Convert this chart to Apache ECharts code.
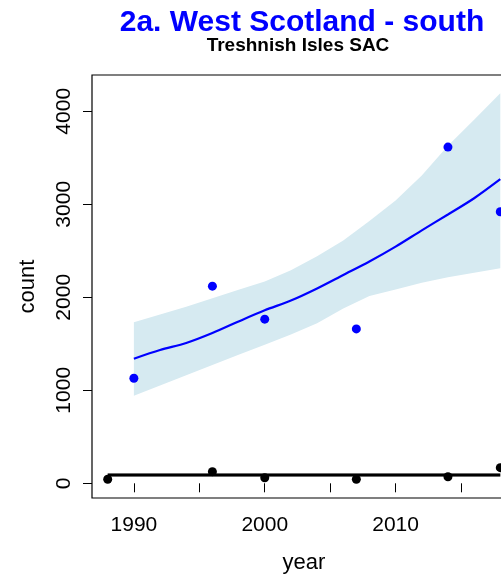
<!DOCTYPE html>
<html>
<head>
<meta charset="utf-8">
<script src="https://cdn.jsdelivr.net/npm/echarts@6/dist/echarts.min.js"></script>
<style>
  html, body { margin: 0; padding: 0; background: #ffffff; overflow: hidden; }
  #chart { width: 501px; height: 577px; }
</style>
</head>
<body>
<div id="chart"></div>
<script>
// Observed colony counts (blue: one survey series, black: the other)
const blueYears = [1990, 1996, 2000, 2007, 2014, 2018];
const blueCounts = [1130, 2120, 1765, 1660, 3615, 2920];
const blackYears = [1988, 1996, 2000, 2007, 2014, 2018];
const blackCounts = [43, 125, 60, 43, 71, 168];

// Fitted trend for the blue series, with its confidence band
const fitYears = [1990, 1992, 1994, 1996, 1998, 2000, 2002, 2004, 2006, 2008, 2010, 2012, 2014, 2016, 2018];
const fitBlue = [1340, 1433, 1508, 1615, 1740, 1860, 1965, 2095, 2240, 2385, 2545, 2720, 2890, 3065, 3270];
const fitBlueUpper = [1731, 1815, 1899, 1989, 2080, 2170, 2290, 2440, 2610, 2820, 3040, 3310, 3630, 3910, 4194];
const fitBlueLower = [942, 1052, 1162, 1272, 1382, 1490, 1600, 1720, 1880, 2015, 2083, 2155, 2215, 2265, 2312];

// Flat trend for the black series
const fitBlackYears = [1988, 2018];
const fitBlack = [89, 89];
const fitBlackUpper = [108, 108];
const fitBlackLower = [70, 70];

// Axis ticks and labels
const xTicks = [1990, 1995, 2000, 2005, 2010, 2015];
const xLabels = [1990, 2000, 2010];
const yTicks = [0, 1000, 2000, 3000, 4000];

const pairs = (xs, ys) => xs.map((x, i) => [x, ys[i]]);

// Polygon band between a lower and upper curve, projected through the axes
function bandSeries(xs, lo, hi, color) {
  const rows = xs.map((x, i) => [x, lo[i], hi[i]]);
  return {
    type: 'custom',
    silent: true,
    clip: true,
    z: 1,
    data: [0],
    renderItem: function (params, api) {
      const top = rows.map(r => api.coord([r[0], r[2]]));
      const bottom = rows.slice().reverse().map(r => api.coord([r[0], r[1]]));
      return {
        type: 'polygon',
        shape: { points: top.concat(bottom), smooth: 0 },
        style: { fill: color, stroke: null }
      };
    }
  };
}

const chart = echarts.init(document.getElementById('chart'), null, { renderer: 'canvas' });

const fontFamily = '"Liberation Sans", Arial, sans-serif';

chart.setOption({
  animation: false,
  backgroundColor: '#ffffff',
  graphic: [
    {
      type: 'text', x: 302, y: 23, z: 10,
      style: {
        text: '2a. West Scotland - south',
        fill: '#0000ff',
        font: 'bold 30px ' + fontFamily,
        textAlign: 'center', textVerticalAlign: 'middle'
      }
    },
    {
      type: 'text', x: 298, y: 46, z: 10,
      style: {
        text: 'Treshnish Isles SAC',
        fill: '#000000',
        font: 'bold 19px ' + fontFamily,
        textAlign: 'center', textVerticalAlign: 'middle'
      }
    }
  ],
  grid: {
    left: 92, top: 75, right: -15, bottom: 79,
    outerBoundsMode: 'none',
    containLabel: false,
    show: true, borderColor: '#000000', borderWidth: 1.2,
    backgroundColor: 'transparent'
  },
  xAxis: {
    type: 'value',
    min: 1986.8, max: 2019.2,
    name: 'year',
    nameLocation: 'middle',
    nameGap: 54,
    nameTextStyle: { fontFamily: fontFamily, fontSize: 22, color: '#000000' },
    axisLine: { show: false },
    splitLine: { show: false },
    axisTick: {
      show: true, inside: false, length: 9,
      customValues: xTicks,
      lineStyle: { color: '#000000', width: 1 }
    },
    axisLabel: {
      show: true, customValues: xLabels, margin: 17,
      fontFamily: fontFamily, fontSize: 21, color: '#000000',
      formatter: v => String(v)
    }
  },
  yAxis: {
    type: 'value',
    min: -158, max: 4390,
    name: 'count',
    nameLocation: 'middle',
    nameGap: 53,
    nameTextStyle: { fontFamily: fontFamily, fontSize: 22, color: '#000000' },
    axisLine: { show: false },
    splitLine: { show: false },
    axisTick: {
      show: true, inside: false, length: 9,
      customValues: yTicks,
      lineStyle: { color: '#000000', width: 1 }
    },
    axisLabel: {
      show: true, customValues: yTicks, margin: 17, rotate: 90,
      fontFamily: fontFamily, fontSize: 21, color: '#000000',
      formatter: v => String(v)
    }
  },
  series: [
    bandSeries(fitYears, fitBlueLower, fitBlueUpper, '#d6eaf1'),
    bandSeries(fitBlackYears, fitBlackLower, fitBlackUpper, '#c8c8c8'),
    {
      type: 'line',
      data: pairs(fitYears, fitBlue),
      smooth: 0.3,
      showSymbol: false,
      z: 3,
      lineStyle: { color: '#0000ff', width: 2.2 }
    },
    {
      type: 'line',
      data: pairs(fitBlackYears, fitBlack),
      showSymbol: false,
      z: 3,
      lineStyle: { color: '#000000', width: 3 }
    },
    {
      type: 'scatter',
      data: pairs(blueYears, blueCounts),
      symbol: 'circle', symbolSize: 9,
      z: 4,
      itemStyle: { color: '#0000ff', opacity: 1 }
    },
    {
      type: 'scatter',
      data: pairs(blackYears, blackCounts),
      symbol: 'circle', symbolSize: 9,
      z: 4,
      itemStyle: { color: '#000000', opacity: 1 }
    }
  ]
});
</script>
</body>
</html>
